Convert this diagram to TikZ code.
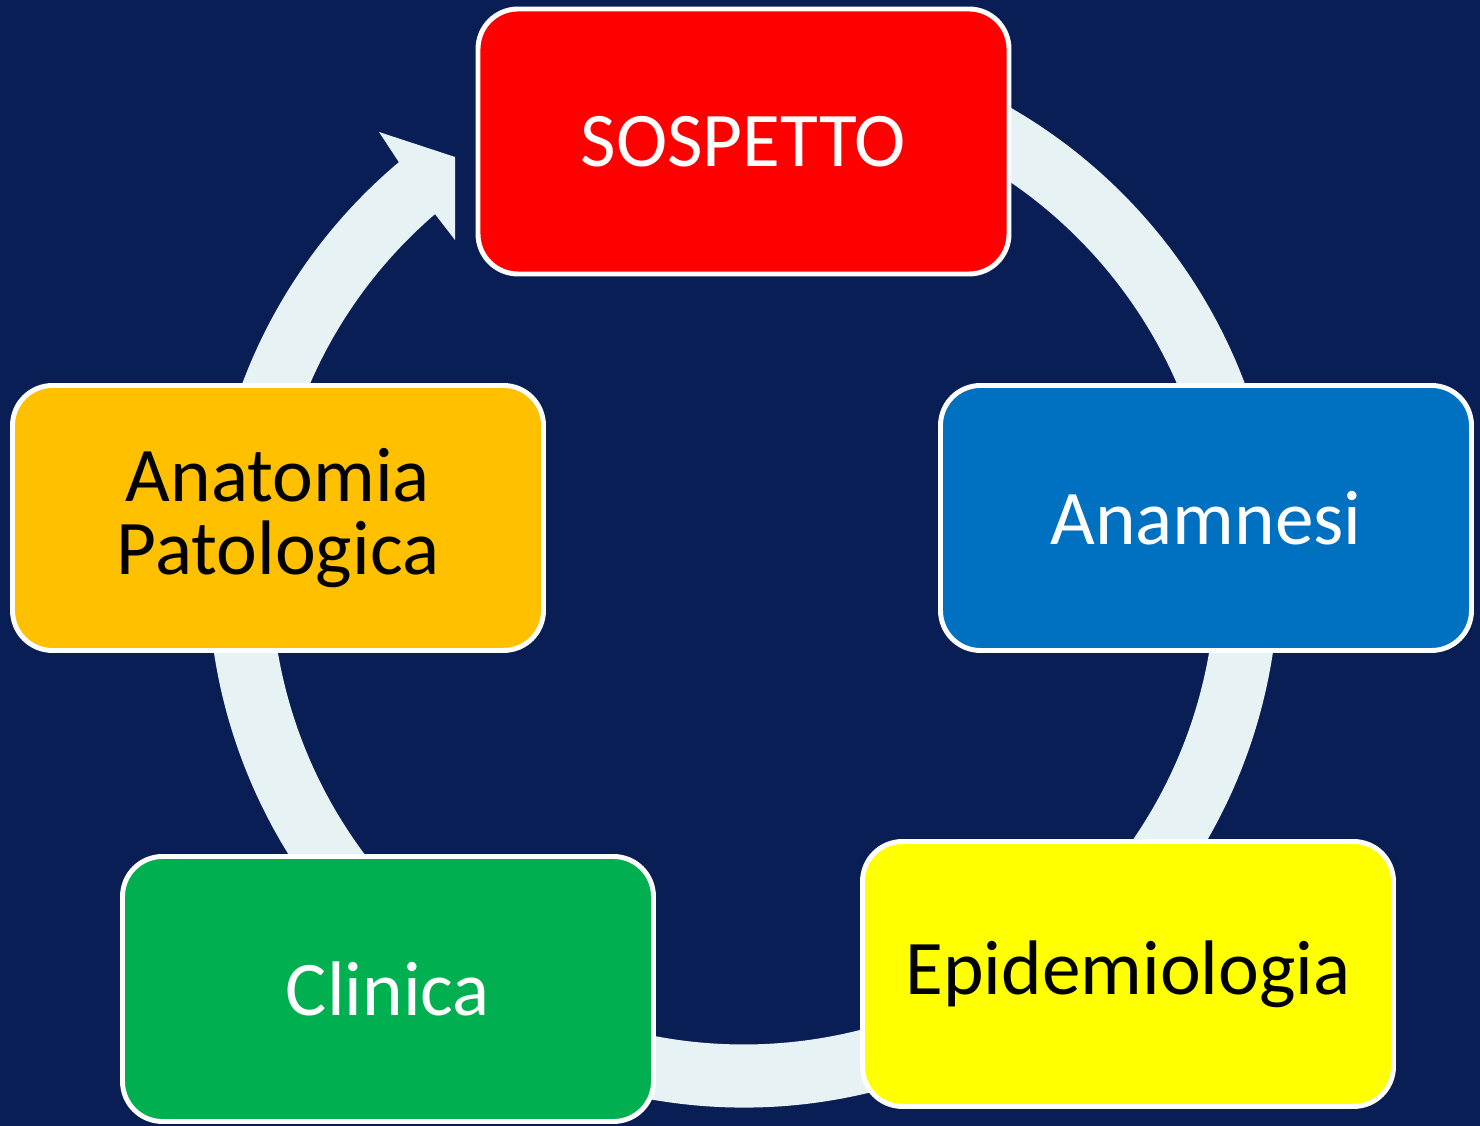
\documentclass[tikz,border=0pt]{standalone}
\usepackage{fontspec}
\setmainfont{Carlito}

\definecolor{fond}{RGB}{10,30,86}
\definecolor{anneau}{RGB}{231,242,245}
\definecolor{rouge}{RGB}{255,0,0}
\definecolor{bleu}{RGB}{0,112,192}
\definecolor{jaune}{RGB}{255,255,0}
\definecolor{vert}{RGB}{0,176,80}
\definecolor{ambre}{RGB}{255,192,0}

\tikzset{
  boite/.style={draw=white, line width=1.4pt, rounded corners=0.4cm,
    minimum width=5.31cm, minimum height=2.65cm, align=center,
    font=\fontsize{22}{21}\selectfont}
}

\begin{document}
\begin{tikzpicture}[scale=1]

% Fond
\useasboundingbox (0,0) rectangle (14.8,11.26);
\fill[fond] (0,0) rectangle (14.8,11.26);

\coordinate (centre) at (7.435,5.54);

% Anneau et flèche
\fill[anneau, shift={(centre)}]
(130.06:5.355)
--
(-3.645,4.40)
--
(-2.885,4.15)
--
(-2.885,3.32)
--
(130.76:4.725)
arc[start angle=130.76, end angle=440, radius=4.725]
--
(440:5.355)
arc[start angle=440, end angle=130.06, radius=5.355]
--
cycle;

% Boîtes
\node[boite, fill=rouge, text=white] (sospetto) at (7.435,9.845) {SOSPETTO};
\node[boite, fill=bleu, text=white] (anamnesi) at (12.06,6.08) {Anamnesi};
\node[boite, fill=jaune, text=black] (epidemiologia) at (11.28,1.52) {Epidemiologia};
\node[boite, fill=vert, text=white] (clinica) at (3.88,1.37) {Clinica};
\node[boite, fill=ambre, text=black] (anatomia) at (2.78,6.08) {Anatomia\\Patologica};

\end{tikzpicture}
\end{document}
